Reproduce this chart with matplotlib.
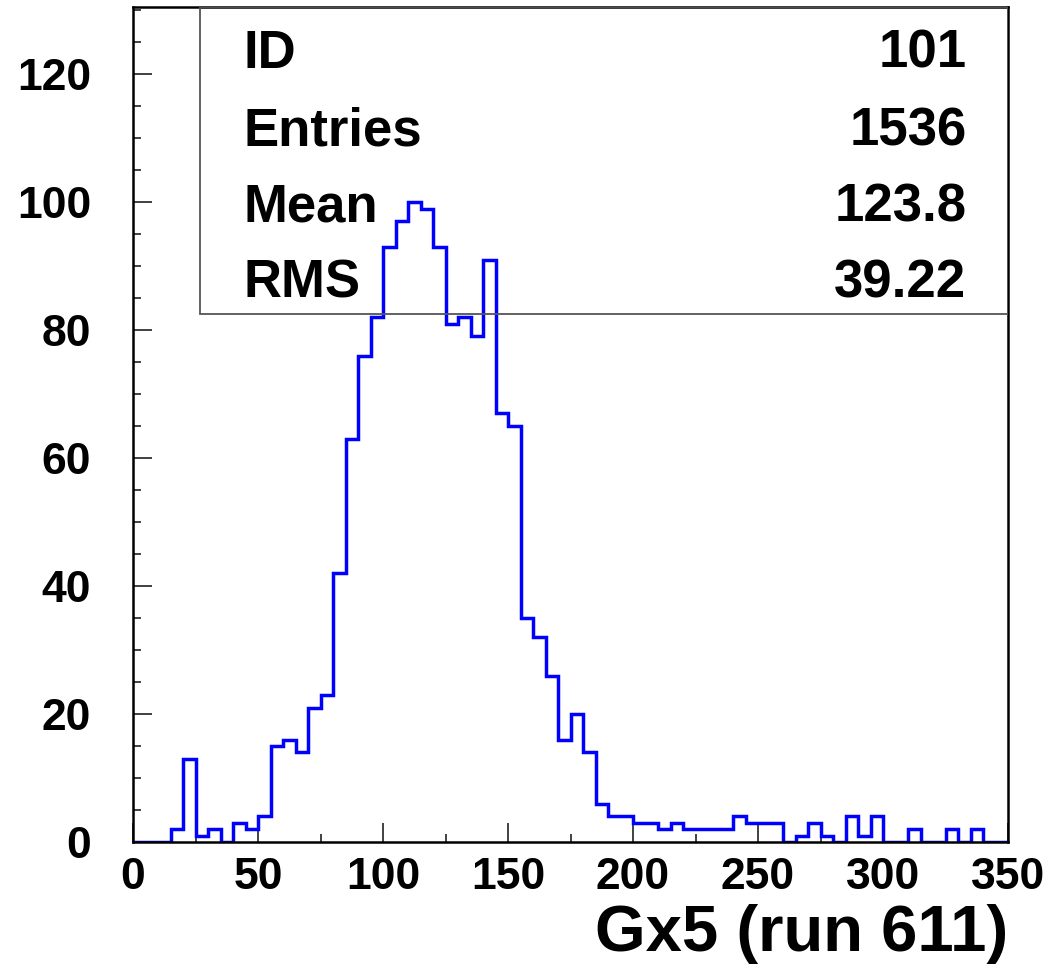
import numpy as np
import matplotlib.pyplot as plt
from matplotlib.patches import Rectangle
from matplotlib.ticker import MultipleLocator

plt.rcParams['font.family'] = ['Liberation Sans', 'DejaVu Sans']
plt.rcParams['font.weight'] = 'bold'

# histogram 101: 70 bins of width 5 from 0 to 350
bin_edges = np.linspace(0, 350, 71)
counts = np.array([
    0, 0, 0, 2, 13, 1, 2, 0, 3, 2,
    4, 15, 16, 14, 21, 23, 42, 63, 76, 82,
    93, 97, 100, 99, 93, 81, 82, 79, 91, 67,
    65, 35, 32, 26, 16, 20, 14, 6, 4, 4,
    3, 3, 2, 3, 2, 2, 2, 2, 4, 3,
    3, 3, 0, 1, 3, 1, 0, 4, 1, 4,
    0, 0, 2, 0, 0, 2, 0, 2, 0, 0,
])

stat_names = ["ID", "Entries", "Mean", "RMS"]
stat_values = ["101", "1536", "123.8", "39.22"]

fig = plt.figure(figsize=(10.5, 9.71), dpi=100)
ax = fig.add_axes([0.1267, 0.1329, 0.8333, 0.8599])

ax.stairs(counts, bin_edges, color='blue', linewidth=2.5, zorder=2)

ax.set_xlim(0, 350)
ax.set_ylim(0, 130.5)
ax.xaxis.set_major_locator(MultipleLocator(50))
ax.xaxis.set_minor_locator(MultipleLocator(25))
ax.yaxis.set_major_locator(MultipleLocator(20))
ax.yaxis.set_minor_locator(MultipleLocator(5))
ax.tick_params(which='both', direction='in', width=1.3, color='#333333')
ax.tick_params(which='major', length=13.5)
ax.tick_params(which='minor', length=6)
ax.tick_params(axis='x', labelsize=32, pad=11)
ax.tick_params(axis='y', labelsize=32, pad=30)
for lab in ax.get_xticklabels() + ax.get_yticklabels():
    lab.set_fontweight('bold')
for sp in ax.spines.values():
    sp.set_linewidth(1.8)

ax.set_xlabel("Gx5 (run 611)", fontsize=47, fontweight='bold', loc='right', labelpad=4)

# statistics box in the upper right corner (no fill, histogram shows through)
box_left = 0.0766
box_bottom = 82.5 / 130.5
ax.add_patch(Rectangle((box_left, box_bottom), 1 - box_left, 1 - box_bottom,
                       transform=ax.transAxes, facecolor='none',
                       edgecolor='#555555', linewidth=1.3, zorder=3))
row_y = [0.927, 0.8347, 0.7425, 0.6515]
for name, val, y in zip(stat_names, stat_values, row_y):
    ax.text(0.1257, y, name, transform=ax.transAxes, fontsize=38,
            fontweight='bold', ha='left', va='baseline', zorder=4)
    ax.text(0.9525, y, val, transform=ax.transAxes, fontsize=38,
            fontweight='bold', ha='right', va='baseline', zorder=4)

fig.savefig("out.png", dpi=100)
